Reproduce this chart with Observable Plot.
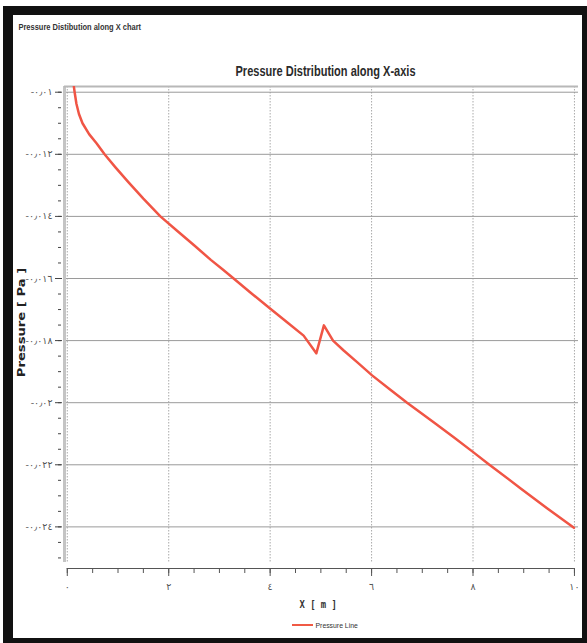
<!DOCTYPE html>
<html>
<head>
<meta charset="utf-8">
<script src="https://cdn.jsdelivr.net/npm/d3@7"></script>
<script src="https://cdn.jsdelivr.net/npm/@observablehq/plot@0.6"></script>
<style>
  html, body { margin: 0; padding: 0; background: #fff; }
  body { width: 587px; height: 643px; position: relative; overflow: hidden; }
  #border { position: absolute; left: 3px; top: 6px; width: 584px; height: 637px; box-sizing: border-box;
            border-left: 10px solid #111; border-top: 9px solid #111; border-right: 5px solid #111; border-bottom: 5px solid #111; background: #fff; }
  #chart { position: absolute; left: 0; top: 0; }
  .t { position: absolute; white-space: nowrap; font-family: "Liberation Sans", Arial, sans-serif; color: #222; line-height: 1; }
</style>
</head>
<body>
<div id="border"></div>
<div id="chart"></div>
<div class="t fit" data-w="123" data-cx="79.5" data-cy="27" style="font-size:9px; font-weight:bold; color:#333;">Pressure Distibution along X chart</div>
<div class="t fit" data-w="180" data-cx="325" data-cy="70" style="font-size:15px; font-weight:bold; color:#2a2a2a;">Pressure Distribution along X-axis</div>
<div class="t fit" data-w="37" data-cx="318" data-cy="604" style="font-size:11px; font-weight:bold; font-family:'DejaVu Sans Mono', monospace; color:#333;">X [ m ]</div>
<div class="t fit" data-w="110" data-cx="22" data-cy="322" data-rot="-90" style="font-size:11px; font-weight:bold; font-family:'DejaVu Sans', sans-serif; color:#222;">Pressure [ Pa ]</div>
<div style="position:absolute; left:292px; top:624px; width:21px; height:2px; background:#f05a45;"></div>
<div class="t fit" data-w="42" data-cx="336" data-cy="626" style="font-size:8px; color:#333;">Pressure Line</div>
<script>
// Data
const xPos = [0.13, 0.145, 0.18, 0.23, 0.30, 0.43, 0.58, 0.735, 0.95, 1.2, 1.5, 1.835, 2.17, 2.5, 2.83, 3.06, 3.28, 3.61, 4.01, 4.34, 4.66, 4.91, 5.06, 5.24, 5.45, 5.72, 6.01, 6.37, 6.70, 7.23, 7.62, 8.01, 8.31, 8.94, 9.46, 9.99];
const pressure = [-0.00982, -0.0100, -0.01037, -0.0107, -0.0110, -0.01135, -0.01165, -0.0120, -0.01242, -0.01289, -0.01343, -0.0140, -0.01447, -0.01493, -0.0154, -0.0157, -0.0160, -0.01645, -0.01698, -0.01742, -0.01784, -0.01841, -0.01751, -0.0180, -0.01832, -0.0187, -0.01912, -0.01958, -0.0200, -0.02064, -0.02111, -0.0216, -0.02198, -0.02276, -0.0234, -0.02403];
const xTicks = [0, 2, 4, 6, 8, 10];
const xTickLabels = ["٠", "٢", "٤", "٦", "٨", "١٠"];
const yTicks = [-0.01, -0.012, -0.014, -0.016, -0.018, -0.02, -0.022, -0.024];
const yTickLabels = ["-٠٫٠١", "-٠٫٠١٢", "-٠٫٠١٤", "-٠٫٠١٦", "-٠٫٠١٨", "-٠٫٠٢", "-٠٫٠٢٢", "-٠٫٠٢٤"];

const xMin = -0.055, xMax = 10.08;
const yMax = -0.009816, yMin = -0.025147;
const xMinor = d3.range(0, 10.001, 0.5);
const yMinor = d3.range(0, 31).map(i => -0.01 - i * 0.0005);

const data = xPos.map((x, i) => ({x, p: pressure[i]}));
const red = "#f05545";
const tickFont = {fontFamily: "'DejaVu Sans', sans-serif", fontSize: 9.5, fill: "#555"};

const chart = Plot.plot({
  width: 587, height: 643,
  marginLeft: 64, marginRight: 9, marginTop: 86, marginBottom: 81,
  style: {background: "transparent", overflow: "visible"},
  x: {domain: [xMin, xMax], label: null},
  y: {domain: [yMin, yMax], label: null},
  marks: [
    Plot.ruleX(xTicks, {stroke: "#aaa", strokeDasharray: "1.5,1.5", strokeWidth: 1}),
    Plot.ruleY(yTicks, {stroke: "#9a9a9a", strokeWidth: 1}),
    Plot.ruleX([xMin], {stroke: "#c4c4c4", strokeWidth: 3}),
    Plot.ruleY([yMax], {stroke: "#b8b8b8", strokeWidth: 2}),
    Plot.line(data, {x: "x", y: "p", stroke: red, strokeWidth: 2.5, clip: true}),
    Plot.ruleY([yMin], {x1: 0, x2: 10, dy: 6, stroke: "#555", strokeWidth: 1.2}),
    Plot.axisX(xTicks, {anchor: "bottom", label: null, tickSize: 8, dy: 6, tickPadding: 7, stroke: "#555",
      tickFormat: d => xTickLabels[xTicks.indexOf(d)], ...tickFont}),
    Plot.axisX(xMinor, {anchor: "bottom", label: null, tickSize: 5, dy: 6, stroke: "#555", tickFormat: () => ""}),
    Plot.axisY(yTicks, {anchor: "left", label: null, tickSize: 7, dx: -2, tickPadding: 3, stroke: "#444",
      tickFormat: d => yTickLabels[yTicks.indexOf(d)], ...tickFont}),
    Plot.axisY(yMinor, {anchor: "left", label: null, tickSize: 3, dx: -3, stroke: "#444", tickFormat: () => ""})
  ]
});
document.getElementById("chart").appendChild(chart);

// Fit the condensed-looking texts to the widths they take in the chart
document.querySelectorAll(".fit").forEach(el => {
  const w = el.offsetWidth, h = el.offsetHeight;
  const target = +el.dataset.w, cx = +el.dataset.cx, cy = +el.dataset.cy;
  const rot = +(el.dataset.rot || 0);
  el.style.left = (cx - w / 2) + "px";
  el.style.top = (cy - h / 2) + "px";
  el.style.transformOrigin = "50% 50%";
  el.style.transform = (rot ? `rotate(${rot}deg) ` : "") + `scaleX(${target / w})`;
});
</script>
</body>
</html>
